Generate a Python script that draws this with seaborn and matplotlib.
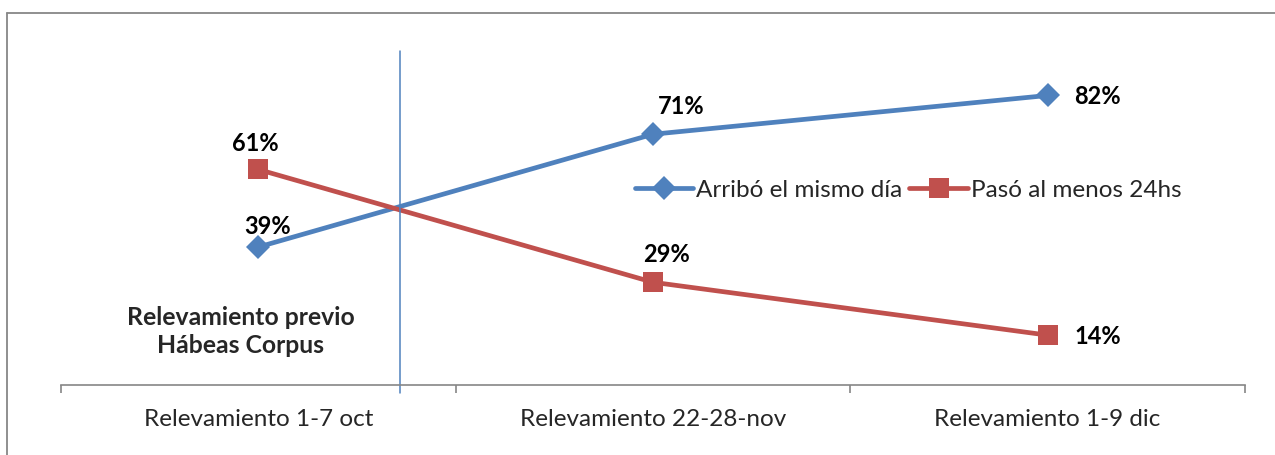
import matplotlib
matplotlib.use("Agg")
import matplotlib.pyplot as plt
import seaborn as sns
import pandas as pd
from matplotlib.lines import Line2D

# data
categorias = ["Relevamiento 1-7 oct", "Relevamiento 22-28-nov", "Relevamiento 1-9 dic"]
arribo_mismo_dia = [39, 71, 82]
paso_24hs = [61, 29, 14]
series = ["Arribó el mismo día", "Pasó al menos 24hs"]

sns.set_style("white")
plt.rcParams['font.family'] = ['Lato', 'DejaVu Sans']

AZUL = "#4F81BD"
ROJO = "#C0504D"

df = pd.DataFrame({
    "cat": categorias * 2,
    "val": arribo_mismo_dia + paso_24hs,
    "serie": [series[0]] * 3 + [series[1]] * 3,
})

W, H = 1275, 455
fig = plt.figure(figsize=(W / 100, H / 100), dpi=100)
ax = fig.add_axes([61 / W, (H - 384.5) / H, (1245 - 61) / W, (384.5 - 32) / H])

sns.lineplot(data=df, x="cat", y="val", hue="serie", style="serie",
             palette=[AZUL, ROJO], markers=["D", "s"], dashes=False,
             markersize=12, linewidth=3.4, markeredgewidth=0, sort=False, ax=ax,
             legend=False)
# bigger squares than diamonds, as in the original
ax.lines[1].set_markersize(14)

ax.set_xlim(-0.5, 2.5)
ax.set_ylim(0, 100)
ax.set_xlabel("")
ax.set_ylabel("")
ax.set_yticks([])
ax.set_xticks([-0.5, 0.5, 1.5, 2.5], minor=False)
ax.set_xticklabels([])
ax.set_xticks(range(3), minor=True)
ax.set_xticklabels(categorias, minor=True, fontsize=17.5)
ax.tick_params(axis="x", which="major", bottom=True, direction="out", length=6,
               width=1.2, color="#868686")
ax.tick_params(axis="x", which="minor", bottom=True, length=0, pad=18)
for s in ["top", "right", "left"]:
    ax.spines[s].set_visible(False)
ax.spines["bottom"].set_color("#868686")
ax.spines["bottom"].set_linewidth(1.2)

# vertical divider
ax.axvline(0.36, ymin=-0.025, ymax=0.947, color=AZUL, lw=1.1, clip_on=False)

# data labels
lab = dict(fontsize=17, fontweight="bold", color="black", textcoords="offset points")
offs_azul = [(7, 15), (20, 20), (36, -1)]
offs_rojo = [(-2, 19), (10, 20), (36, -1)]
for i, v in enumerate(arribo_mismo_dia):
    ax.annotate(f"{v}%", (i, v), xytext=offs_azul[i], ha="center", va="center", **lab)
for i, v in enumerate(paso_24hs):
    ax.annotate(f"{v}%", (i, v), xytext=offs_rojo[i], ha="center", va="center", **lab)

ax.text(-0.045, 15, "Relevamiento previo\nHábeas Corpus", ha="center", va="center",
        fontsize=17.8, fontweight="bold", linespacing=1.3)

handles = [
    Line2D([], [], color=AZUL, lw=3.4, marker="D", markersize=12, markeredgewidth=0),
    Line2D([], [], color=ROJO, lw=3.4, marker="s", markersize=14, markeredgewidth=0),
]
ax.legend(handles, series, loc="center", bbox_to_anchor=(908 / W, (H - 190) / H),
          bbox_transform=fig.transFigure, ncol=2, frameon=False, fontsize=17.5,
          handlelength=2.4, handletextpad=0.12, columnspacing=0.3)

# outer chart border (goes past the image on right and bottom)
fig.add_artist(Line2D([6.5 / W, 6.5 / W], [0, (H - 12.5) / H], color="#878787", lw=1.3))
fig.add_artist(Line2D([6.5 / W, 1], [(H - 12.5) / H, (H - 12.5) / H], color="#878787", lw=1.3))

fig.savefig("out.png", dpi=100)
